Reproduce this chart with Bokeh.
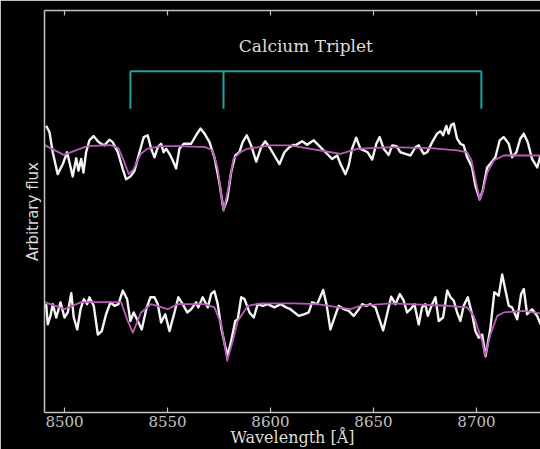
from bokeh.plotting import figure
from bokeh.models import Range1d, LinearAxis, FixedTicker, Label
from bokeh.embed import file_html
from bokeh.resources import INLINE

# ---- data ----
top_wl = [8491.1, 8492.7, 8494.3, 8496.7, 8499.2, 8501.3, 8504.0, 8505.7, 8506.8, 8508.1,
          8509.2, 8510.5, 8512.1, 8514.1, 8516.2, 8517.8, 8519.4, 8521.8, 8523.4, 8525.9,
          8528.3, 8529.9, 8532.0, 8534.0, 8536.4, 8538.5, 8540.4, 8542.1, 8543.7, 8545.3,
          8546.9, 8548.1, 8549.4, 8551.0, 8552.6, 8554.2, 8555.8, 8557.9, 8561.5, 8563.9,
          8566.0, 8568.0, 8570.4, 8572.8, 8575.2, 8577.2, 8579.0, 8580.9, 8582.9, 8584.9,
          8586.5, 8588.5, 8590.6, 8593.1, 8595.5, 8597.4, 8599.5, 8601.9, 8604.4, 8606.8,
          8609.2, 8611.3, 8612.1, 8615.4, 8617.8, 8621.0, 8623.4, 8628.3, 8629.9, 8632.4,
          8634.0, 8636.4, 8638.0, 8639.6, 8641.6, 8643.7, 8645.3, 8647.2, 8649.4, 8651.4,
          8653.0, 8655.0, 8657.4, 8659.1, 8661.2, 8663.1, 8665.5, 8668.0, 8670.4, 8672.0,
          8674.4, 8676.1, 8678.5, 8680.9, 8682.5, 8683.8, 8685.4, 8686.5, 8687.7, 8689.0,
          8690.6, 8692.2, 8693.8, 8695.5, 8697.9, 8699.5, 8701.6, 8703.2, 8705.2, 8707.6,
          8709.2, 8711.3, 8713.2, 8715.7, 8717.3, 8719.4, 8721.3, 8723.0, 8724.9, 8727.0,
          8729.5, 8731.1]
top_flux = [1.095, 1.065, 0.965, 0.857, 0.907, 0.965, 0.845, 0.935, 0.874, 0.932,
            0.865, 0.965, 1.024, 1.045, 1.019, 1.007, 0.999, 1.027, 1.015, 0.965,
            0.882, 0.832, 0.845, 0.874, 0.965, 1.040, 1.049, 0.982, 0.940, 0.990,
            1.007, 0.965, 0.982, 0.957, 0.924, 0.885, 0.982, 1.007, 1.007, 1.049,
            1.082, 1.057, 1.015, 0.940, 0.815, 0.682, 0.732, 0.865, 0.949, 0.965,
            1.015, 1.049, 0.999, 0.919, 0.990, 1.019, 0.990, 0.949, 0.907, 0.965,
            0.990, 1.002, 0.999, 1.019, 1.002, 1.024, 0.999, 0.949, 0.932, 0.949,
            0.907, 0.857, 0.899, 0.982, 1.037, 0.982, 0.974, 0.965, 0.929, 1.007,
            1.040, 0.982, 0.952, 0.999, 0.995, 0.965, 0.957, 0.949, 0.990, 0.999,
            0.957, 0.965, 1.015, 1.057, 1.069, 1.049, 1.095, 1.057, 1.099, 1.107,
            1.032, 1.007, 0.999, 0.940, 0.890, 0.799, 0.732, 0.782, 0.890, 0.919,
            0.940, 1.024, 1.040, 1.007, 0.940, 0.965, 1.032, 1.057, 1.015, 0.932,
            0.890, 0.949]

top_model_wl = [8490.3, 8499.7, 8511.0, 8522.3, 8526.2, 8529.1, 8531.2, 8533.5, 8536.9, 8540.1,
                8546.6, 8556.3, 8568.4, 8571.8, 8574.3, 8577.2, 8579.6, 8582.0, 8585.4, 8588.7,
                8600.0, 8609.7, 8619.4, 8626.7, 8634.0, 8642.1, 8658.3, 8677.7, 8690.6, 8695.5,
                8697.6, 8699.8, 8701.6, 8703.4, 8705.3, 8708.4, 8713.2, 8731.1]
top_model_flux = [1.000, 0.952, 0.995, 1.000, 0.985, 0.915, 0.857, 0.880, 0.955, 0.982,
                  0.995, 0.995, 0.990, 0.975, 0.890, 0.675, 0.790, 0.932, 0.965, 0.982,
                  0.999, 0.999, 0.982, 0.970, 0.957, 0.982, 0.990, 0.985, 0.974, 0.965,
                  0.925, 0.815, 0.732, 0.785, 0.865, 0.924, 0.949, 0.949]

bot_wl = [8491.1, 8491.9, 8493.2, 8494.3, 8496.0, 8498.1, 8500.0, 8501.6, 8503.3, 8504.5,
          8506.2, 8507.8, 8509.4, 8511.0, 8512.1, 8514.2, 8516.2, 8518.1, 8520.2, 8522.3,
          8524.3, 8526.2, 8528.3, 8530.4, 8532.0, 8533.6, 8535.6, 8537.5, 8539.7, 8541.7,
          8543.7, 8545.3, 8546.9, 8548.9, 8551.0, 8553.4, 8555.3, 8557.4, 8559.6, 8561.5,
          8563.9, 8565.0, 8567.1, 8569.6, 8571.2, 8572.8, 8574.4, 8576.1, 8578.0, 8579.3,
          8580.9, 8582.9, 8584.1, 8585.8, 8587.4, 8589.8, 8591.9, 8593.8, 8596.3, 8598.7,
          8601.9, 8604.9, 8607.6, 8609.7, 8613.7, 8616.2, 8618.6, 8620.2, 8622.7, 8625.6,
          8627.2, 8629.1, 8631.1, 8633.1, 8635.6, 8638.0, 8640.4, 8642.9, 8644.5, 8646.6,
          8648.5, 8651.0, 8652.6, 8654.7, 8656.6, 8658.6, 8660.7, 8662.8, 8664.7, 8666.3,
          8668.0, 8669.9, 8672.0, 8673.6, 8675.2, 8676.4, 8678.5, 8680.1, 8681.7, 8683.8,
          8685.8, 8687.4, 8689.0, 8690.6, 8692.2, 8693.8, 8695.8, 8697.9, 8699.5, 8701.1,
          8702.8, 8704.4, 8706.0, 8706.8, 8708.7, 8710.8, 8712.5, 8714.1, 8715.7, 8717.3,
          8719.8, 8721.7, 8723.0, 8724.6, 8727.0, 8729.5, 8731.1]
bot_flux = [0.990, 0.890, 0.932, 0.990, 0.924, 0.999, 0.924, 0.949, 1.044, 0.924,
            0.865, 0.965, 1.015, 0.990, 1.024, 0.982, 0.840, 0.857, 0.940, 0.999,
            0.982, 0.990, 1.057, 1.015, 0.907, 0.949, 0.907, 0.865, 0.965, 1.024,
            1.024, 0.990, 0.899, 0.940, 0.857, 0.949, 1.024, 0.990, 0.949, 0.965,
            0.999, 0.974, 1.024, 0.974, 1.040, 1.054, 0.990, 0.874, 0.782, 0.740,
            0.807, 0.907, 0.915, 1.024, 1.015, 0.949, 0.924, 0.990, 0.982, 0.990,
            0.974, 0.990, 0.974, 0.965, 0.932, 0.940, 0.949, 0.999, 0.990, 1.060,
            0.990, 0.865, 0.924, 0.982, 0.965, 0.957, 0.932, 0.965, 0.990, 0.982,
            0.990, 0.974, 0.924, 0.860, 0.940, 1.027, 0.990, 1.040, 1.007, 0.949,
            0.965, 0.990, 0.890, 0.974, 0.990, 0.932, 0.990, 1.024, 0.907, 0.924,
            1.057, 1.024, 1.007, 0.949, 0.907, 0.982, 1.024, 0.940, 0.857, 0.824,
            0.840, 0.732, 0.824, 0.874, 1.049, 1.032, 1.137, 1.057, 0.982, 0.974,
            0.915, 1.040, 1.065, 0.940, 0.965, 0.932, 0.890]

bot_model_wl = [8490.3, 8500.0, 8508.1, 8527.5, 8530.7, 8533.2, 8537.2, 8542.1, 8550.1, 8555.0,
                8568.0, 8572.8, 8576.1, 8579.0, 8581.7, 8584.1, 8589.0, 8595.5, 8611.7, 8622.7,
                8638.8, 8643.7, 8658.3, 8685.8, 8695.5, 8698.7, 8702.8, 8704.1, 8706.8, 8710.1,
                8713.3, 8723.0, 8731.1]
bot_model_flux = [1.000, 0.965, 1.000, 1.000, 0.907, 0.849, 0.949, 0.990, 0.965, 0.990,
                  0.990, 0.974, 0.890, 0.710, 0.807, 0.907, 0.982, 0.994, 0.994, 0.990,
                  0.965, 0.982, 0.994, 0.982, 0.974, 0.932, 0.807, 0.732, 0.840, 0.932,
                  0.949, 0.957, 0.944]

ca_lines = [8532.0, 8577.2, 8702.4]
top_offset = 0.775
bracket_top = 2.14
bracket_bottom = 1.955
label_y = 2.265
bracket_label = "Calcium Triplet"
x_ticks = [8500, 8550, 8600, 8650, 8700]

# ---- figure ----
AX = "#c4c4c4"
TXT = "#dcdcdc"
p = figure(width=540, height=449, output_backend="svg", toolbar_location=None,
           x_range=Range1d(8490.3, 8731.1), y_range=Range1d(0.455, 2.44),
           background_fill_color="black", border_fill_color="black",
           min_border_left=44, min_border_right=0, min_border_top=10, min_border_bottom=0,
           x_axis_location=None, y_axis_location=None)
p.outline_line_color = None
p.grid.visible = False

xa = LinearAxis(ticker=FixedTicker(ticks=x_ticks), axis_label="Wavelength [Å]")
xa.axis_line_color = AX
xa.axis_line_width = 1.5
xa.major_tick_line_color = AX
xa.major_tick_line_width = 1.2
xa.major_tick_in = 5
xa.major_tick_out = 0
xa.minor_tick_line_color = None
xa.major_label_text_color = AX
xa.major_label_text_font = "DejaVu Serif"
xa.major_label_text_font_size = "15px"
xa.major_label_standoff = 3
xa.axis_label_text_color = TXT
xa.axis_label_text_font = "DejaVu Serif"
xa.axis_label_text_font_style = "normal"
xa.axis_label_text_font_size = "16px"
xa.axis_label_standoff = -2
p.add_layout(xa, "below")

ta = LinearAxis(ticker=FixedTicker(ticks=x_ticks),
                major_label_overrides={t: "" for t in x_ticks})
ta.axis_line_color = AX
ta.axis_line_width = 1.5
ta.major_tick_line_color = AX
ta.major_tick_line_width = 1.2
ta.major_tick_in = 5
ta.major_tick_out = 0
ta.minor_tick_line_color = None
ta.major_label_standoff = 0
p.add_layout(ta, "above")

ya = LinearAxis(ticker=FixedTicker(ticks=[]), axis_label="Arbitrary flux")
ya.axis_line_color = AX
ya.axis_line_width = 1.5
ya.major_tick_line_color = None
ya.minor_tick_line_color = None
ya.major_tick_in = 0
ya.major_tick_out = 0
ya.major_label_standoff = 0
ya.axis_label_text_color = TXT
ya.axis_label_text_font = "DejaVu Sans"
ya.axis_label_text_font_style = "normal"
ya.axis_label_text_font_size = "15px"
ya.axis_label_standoff = 3
p.add_layout(ya, "left")

# bracket for the calcium triplet
CYAN = "#1fa3a3"
p.segment(x0=[ca_lines[0]], y0=[bracket_top], x1=[ca_lines[-1]], y1=[bracket_top],
          line_color=CYAN, line_width=2)
p.segment(x0=ca_lines, y0=[bracket_top] * len(ca_lines), x1=ca_lines,
          y1=[bracket_bottom] * len(ca_lines), line_color=CYAN, line_width=2)
p.add_layout(Label(x=(ca_lines[0] + ca_lines[-1]) / 2, y=label_y, text=bracket_label,
                   text_align="center", text_baseline="middle", text_color=TXT,
                   text_font="DejaVu Serif", text_font_size="17px"))

WHITE = "#f4f4f4"
MAG = "#b65cb6"
p.line(top_wl, [f + top_offset for f in top_flux], line_color=WHITE, line_width=2.4,
       line_join="round")
p.line(top_model_wl, [f + top_offset for f in top_model_flux], line_color=MAG,
       line_width=1.8, line_join="round")
p.line(bot_wl, bot_flux, line_color=WHITE, line_width=2.4, line_join="round")
p.line(bot_model_wl, bot_model_flux, line_color=MAG, line_width=1.8, line_join="round")

open("out.html", "w").write(file_html(p, INLINE))
